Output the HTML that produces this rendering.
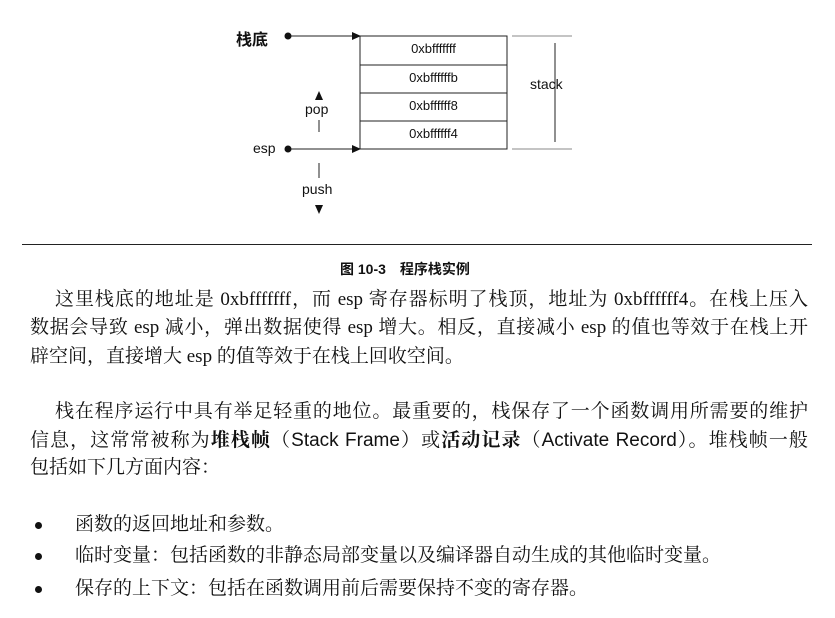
<!DOCTYPE html>
<html><head><meta charset="utf-8"><style>
body{margin:0;width:835px;height:618px;background:#fff;position:relative;overflow:hidden;color:#111}
.t{position:absolute;font-family:"Liberation Serif","Noto Serif CJK SC",serif;font-size:19px;white-space:nowrap;line-height:22px}
.j{text-align:justify;text-align-last:justify;white-space:normal}
.s{font-family:"Liberation Sans","Noto Sans CJK SC",sans-serif}
.d{position:absolute;font-family:"Liberation Sans",sans-serif;font-size:14px}
.b{position:absolute;width:7px;height:7px;border-radius:50%;background:#111;left:35px}
</style></head><body>
<svg width="835" height="240" style="position:absolute;left:0;top:0">
<g stroke="#222" stroke-width="1" fill="none">
<rect x="360" y="36" width="147" height="113"/>
<line x1="360" y1="65" x2="507" y2="65"/><line x1="360" y1="93" x2="507" y2="93"/><line x1="360" y1="121" x2="507" y2="121"/>
<line x1="289" y1="36" x2="352" y2="36"/><line x1="289" y1="149" x2="352" y2="149"/>
<line x1="512" y1="36" x2="572" y2="36" stroke="#888"/><line x1="512" y1="149" x2="572" y2="149" stroke="#888"/>
<line x1="555" y1="43" x2="555" y2="142"/>
<line x1="319" y1="120" x2="319" y2="132"/><line x1="319" y1="163" x2="319" y2="178"/>
</g>
<g fill="#111">
<circle cx="288" cy="36" r="3.5"/><circle cx="288" cy="149" r="3.5"/>
<polygon points="352,32 361,36 352,40"/><polygon points="352,145 361,149 352,153"/>
<polygon points="315,100 319,91 323,100"/><polygon points="315,205 319,214 323,205"/>
</g>
</svg>
<div class="d s" style="left:236px;top:26px;font-size:16px;font-weight:bold;font-family:'Liberation Sans','Noto Sans CJK SC',sans-serif">栈底</div>
<div class="d" style="left:253px;top:140px">esp</div>
<div class="d" style="left:305px;top:101px">pop</div>
<div class="d" style="left:302px;top:181px">push</div>
<div class="d" style="left:530px;top:76px">stack</div>
<div class="d" style="left:360px;width:147px;text-align:center;top:41px;font-size:13px">0xbfffffff</div>
<div class="d" style="left:360px;width:147px;text-align:center;top:70px;font-size:13px">0xbffffffb</div>
<div class="d" style="left:360px;width:147px;text-align:center;top:98px;font-size:13px">0xbffffff8</div>
<div class="d" style="left:360px;width:147px;text-align:center;top:126px;font-size:13px">0xbffffff4</div>
<div style="position:absolute;left:22px;top:244px;width:790px;height:1px;background:#222"></div>
<div class="t s" style="left:340px;top:258px;font-size:14px;font-weight:bold">图 10-3　程序栈实例</div>
<div class="t j" style="left:55px;top:289px;width:753px">这里栈底的地址是 0xbfffffff，而 esp 寄存器标明了栈顶，地址为 0xbffffff4。在栈上压入</div>
<div class="t j" style="left:30px;top:317px;width:778px">数据会导致 esp 减小，弹出数据使得 esp 增大。相反，直接减小 esp 的值也等效于在栈上开</div>
<div class="t" style="left:30px;top:346px">辟空间，直接增大 esp 的值等效于在栈上回收空间。</div>
<div class="t j" style="left:55px;top:401px;width:753px">栈在程序运行中具有举足轻重的地位。最重要的，栈保存了一个函数调用所需要的维护</div>
<div class="t j" style="left:30px;top:430px;width:778px">信息，这常常被称为<b>堆栈帧</b>（<span class="s">Stack Frame</span>）或<b>活动记录</b>（<span class="s">Activate Record</span>）。堆栈帧一般</div>
<div class="t" style="left:30px;top:457px">包括如下几方面内容：</div>
<div class="b" style="top:522px"></div><div class="t" style="left:75px;top:514px">函数的返回地址和参数。</div>
<div class="b" style="top:553px"></div><div class="t" style="left:75px;top:545px">临时变量：包括函数的非静态局部变量以及编译器自动生成的其他临时变量。</div>
<div class="b" style="top:586px"></div><div class="t" style="left:75px;top:578px">保存的上下文：包括在函数调用前后需要保持不变的寄存器。</div>
</body></html>
